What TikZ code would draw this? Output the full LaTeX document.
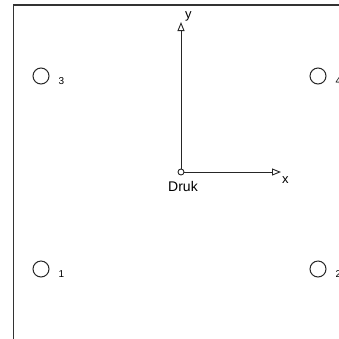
\documentclass[tikz,border=0pt]{standalone}
\usepackage{fontspec}
\setmainfont{Liberation Sans}
\usetikzlibrary{arrows.meta}
\begin{document}
\begin{tikzpicture}[x=1pt,y=-1pt,
  frame/.style={draw=black!80,line width=1.3pt},
  pt/.style={draw=black!85,circle,line width=1pt,minimum size=16pt,inner sep=0pt},
  sub/.style={font=\fontsize{10}{11}\selectfont,inner sep=0pt,anchor=west},
  axis/.style={draw=black!85,line width=0.9pt,-{Triangle[open,length=9pt,width=7pt]}},
  lbl/.style={font=\fontsize{13}{14}\selectfont,inner sep=0pt}]
\useasboundingbox (0,0) rectangle (339,338);
\clip (0,0) rectangle (339,338);
\draw[frame] (13.5,400) -- (13.5,5) -- (400,5);
\node[pt] (p3) at (41,76) {};
\node[sub] (l3) at (58.5,81) {3};
\node[pt] (p1) at (41,269) {};
\node[sub] (l1) at (58.5,274) {1};
\node[pt] (p4) at (318,76) {};
\node[sub] (l4) at (335.5,81) {4};
\node[pt] (p2) at (318,269) {};
\node[sub] (l2) at (335.5,274) {2};
\node[draw=black!85,circle,line width=0.9pt,minimum size=6pt,inner sep=0pt] (o) at (181,172) {};
\coordinate (ytip) at (181,22);
\coordinate (xtip) at (281,172);
\draw[axis] (o) -- (ytip);
\draw[axis] (o) -- (xtip);
\node[lbl,anchor=north,font=\fontsize{14}{15}\selectfont] (druk) at (183,181) {Druk};
\node[lbl,anchor=west] (xl) at (282,180) {x};
\node[lbl,anchor=west] (yl) at (185,16) {y};
\end{tikzpicture}
\end{document}
